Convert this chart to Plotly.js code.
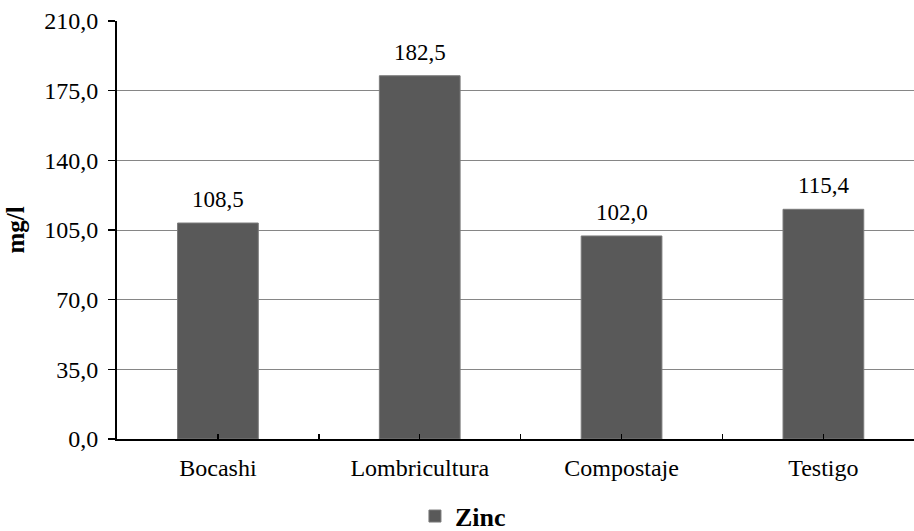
<!DOCTYPE html>
<html>
<head>
<meta charset="utf-8">
<script src="https://cdn.plot.ly/plotly-3.0.1.min.js"></script>
<style>html,body{margin:0;padding:0;background:#fff;font-family:'Liberation Serif',serif;}#chart{width:914px;height:531px;}</style>
</head>
<body>
<div id="chart"></div>
<script>
const categories = ["Bocashi", "Lombricultura", "Compostaje", "Testigo"];
const zincValues = [108.5, 182.5, 102.0, 115.4];
const seriesName = "Zinc";
const yTitle = "mg/l";
const yTickValues = [0, 35, 70, 105, 140, 175, 210];

const FONT = 'Liberation Serif';
const xPos = categories.map((c, i) => i);
const fmt = v => v.toFixed(1).replace('.', ',');

function draw() {
  const trace = {
    type: 'bar',
    x: xPos,
    y: zincValues,
    name: seriesName,
    width: 0.4,
    marker: {color: '#595959', line: {color: '#7a7a7a', width: 1}},
    hoverinfo: 'none'
  };

  const annotations = zincValues.map((v, i) => ({
    x: xPos[i], y: v, xref: 'x', yref: 'y',
    text: fmt(v), showarrow: false,
    yanchor: 'bottom', yshift: 9,
    font: {family: FONT, size: 23, color: '#000'}
  }));

  const layout = {
    width: 914, height: 531,
    margin: {l: 117, r: 0, t: 21, b: 92},
    paper_bgcolor: '#fff', plot_bgcolor: '#fff',
    separators: ',.',
    font: {family: FONT, size: 24, color: '#000'},
    showlegend: true,
    legend: {
      orientation: 'h', xref: 'container', yref: 'container',
      x: 0.454, xanchor: 'left', y: 0.028, yanchor: 'middle',
      font: {family: FONT, size: 26, color: '#000', weight: 'bold'},
      itemwidth: 30
    },
    xaxis: {
      type: 'linear',
      range: [-0.5, 3.449],
      tickvals: xPos, ticktext: categories,
      ticks: 'inside', ticklen: 5, tickwidth: 1.5, tickcolor: '#000',
      minor: {tickvals: [-0.5, 0.5, 1.5, 2.5, 3.5], ticks: 'inside', ticklen: 5, tickwidth: 1.5, tickcolor: '#000'},
      showline: true, linecolor: '#000', linewidth: 2,
      showgrid: false, zeroline: false,
      ticklabelstandoff: 6,
      tickfont: {family: FONT, size: 24, color: '#000'}
    },
    yaxis: {
      range: [0, 210],
      tickvals: yTickValues,
      tickformat: '.1f',
      ticks: 'outside', ticklen: 7, tickwidth: 1.5, tickcolor: '#000',
      showline: true, linecolor: '#000', linewidth: 2,
      showgrid: true, gridcolor: '#868686', gridwidth: 1,
      zeroline: false,
      ticklabelstandoff: 5,
      tickfont: {family: FONT, size: 24, color: '#000'},
      title: {text: '<b>' + yTitle + '</b>', font: {family: FONT, size: 25, color: '#000'}, standoff: 12}
    },
    annotations: annotations
  };

  Plotly.newPlot('chart', [trace], layout, {displayModeBar: false, staticPlot: true});
}

if (document.fonts && document.fonts.load) {
  Promise.all([
    document.fonts.load('20px "Liberation Serif"'),
    document.fonts.load('bold 20px "Liberation Serif"')
  ]).then(draw, draw);
} else {
  draw();
}
</script>
</body>
</html>
